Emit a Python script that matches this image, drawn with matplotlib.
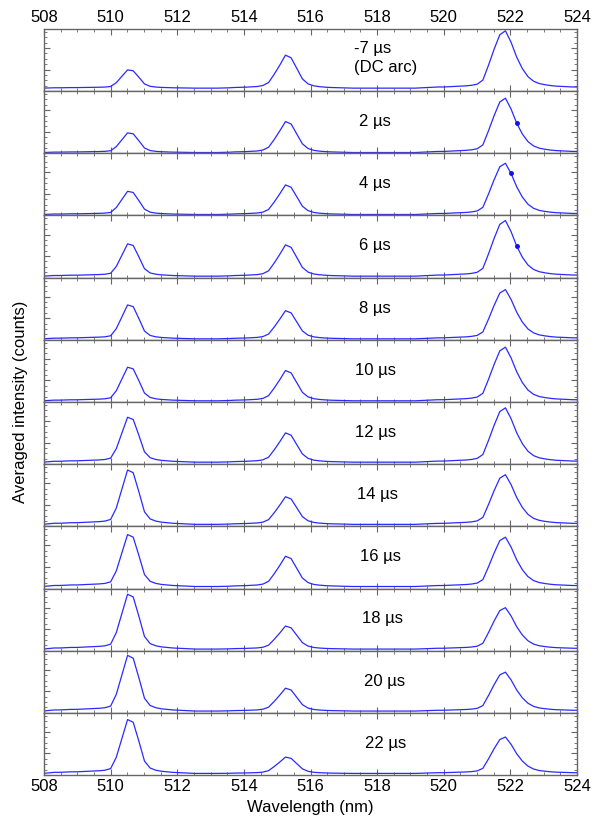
import numpy as np
import matplotlib
matplotlib.use('Agg')
import matplotlib.pyplot as plt
from matplotlib.ticker import MultipleLocator, AutoMinorLocator

plt.rcParams['font.family'] = ['Liberation Sans', 'DejaVu Sans']

# sampling grid of the spectrometer (nm), one pixel every ~0.169 nm, 510.0 nm is pixel 0
step_nm = 0.1693
first_pixel = -12
last_pixel = 84

panel_labels = ['-7 µs\n(DC arc)', '2 µs', '4 µs', '6 µs', '8 µs', '10 µs',
                '12 µs', '14 µs', '16 µs', '18 µs', '20 µs', '22 µs']

# normalised line profiles (first pixel index, values)
line1_start = -11
line1_profile = [0.01, 0.02, 0.02, 0.025, 0.03, 0.03, 0.035, 0.04, 0.045, 0.05, 0.06,
                 0.09, 0.30, 0.65, 1.0, 0.95, 0.60, 0.23, 0.10, 0.06, 0.04,
                 0.03, 0.02, 0.015, 0.01, 0.005]
line2_start = 20
line2_profile = [0.005, 0.01, 0.02, 0.025, 0.03, 0.04, 0.05, 0.08, 0.17, 0.42, 0.70, 1.0,
                 0.92, 0.60, 0.28, 0.13, 0.07, 0.045, 0.03, 0.02, 0.015, 0.01, 0.005]
line3_start = 55
line3_profile = [0.005, 0.01, 0.015, 0.02, 0.02, 0.025, 0.03, 0.035, 0.04, 0.05, 0.07, 0.14, 0.40,
                 0.68, 0.93, 1.0, 0.80, 0.54, 0.34, 0.20, 0.12, 0.08, 0.06,
                 0.045, 0.035, 0.03, 0.025, 0.02, 0.02]

# peak heights per delay (counts, arbitrary scale) and baseline level
height_510 = [18.2, 19.6, 23.1, 32.2, 33.8, 33.5, 44.8, 54.2, 51.8, 54.7, 55.5, 53.7]
height_515 = [32.9, 30.9, 29.5, 31.2, 28.1, 30.2, 29.2, 27.5, 30.2, 23.0, 22.8, 16.3]
height_522 = [57.2, 54.2, 51.1, 55.5, 49.1, 53.5, 54.2, 49.5, 49.2, 41.3, 38.8, 36.3]
baseline = [3.0, 0.8, 1.0, 1.5, 1.0, 1.2, 2.0, 2.0, 2.0, 1.6, 1.8, 1.6]

# single highlighted data point in some panels (pixel index, None = no point)
marked_pixel = [None, 72, 71, 72, None, None, None, None, None, None, None, None]

label_x = [517.3, 517.45, 517.45, 517.45, 517.45, 517.35, 517.35, 517.4, 517.5, 517.55, 517.6, 517.65]

pixels = np.arange(first_pixel, last_pixel)
wl = 510.0 + pixels * step_nm


def add_line(spec, start, profile, height):
    idx = np.arange(len(profile)) + start - first_pixel
    spec[idx] += height * np.array(profile)


fig, axes = plt.subplots(len(panel_labels), 1, sharex=True, figsize=(5.99, 8.21), dpi=100)
fig.subplots_adjust(left=0.0735, right=0.9633, top=0.9647, bottom=0.056, hspace=0)

blue = '#2a2aff'
for i, ax in enumerate(axes):
    spec = np.full(len(wl), baseline[i], dtype=float)
    add_line(spec, line1_start, line1_profile, height_510[i])
    add_line(spec, line2_start, line2_profile, height_515[i])
    add_line(spec, line3_start, line3_profile, height_522[i])
    ax.plot(wl, spec, color=blue, lw=0.9)
    if marked_pixel[i] is not None:
        j = marked_pixel[i] - first_pixel
        ax.plot(wl[j], spec[j], 'o', color='#1010ee', ms=2.5)
    ax.set_xlim(508, 524)
    ax.set_ylim(0, 62)
    ax.text(label_x[i], 0.53 if i == 0 else 0.51, panel_labels[i], transform=ax.get_xaxis_transform(),
            fontsize=12, ha='left', va='center', linespacing=1.35)
    ax.xaxis.set_major_locator(MultipleLocator(2))
    ax.xaxis.set_minor_locator(MultipleLocator(0.5))
    ax.yaxis.set_major_locator(MultipleLocator(21.5))
    ax.yaxis.set_minor_locator(AutoMinorLocator(4))
    ax.tick_params(which='both', direction='in', top=True, right=True,
                   labelleft=False, color='#666666')
    ax.tick_params(which='major', length=4, width=0.8)
    ax.tick_params(which='minor', length=2, width=0.6)
    ax.tick_params(axis='x', labelbottom=(i == len(axes) - 1), labeltop=(i == 0), labelsize=12, pad=3)
    for s in ax.spines.values():
        s.set_color('#666666')
        s.set_linewidth(1.0)

axes[-1].set_xlabel('Wavelength (nm)', fontsize=12, labelpad=4)
fig.text(0.035, 0.51, 'Averaged intensity (counts)', rotation=90, fontsize=12, ha='center', va='center')

fig.savefig('out.png', dpi=100)
